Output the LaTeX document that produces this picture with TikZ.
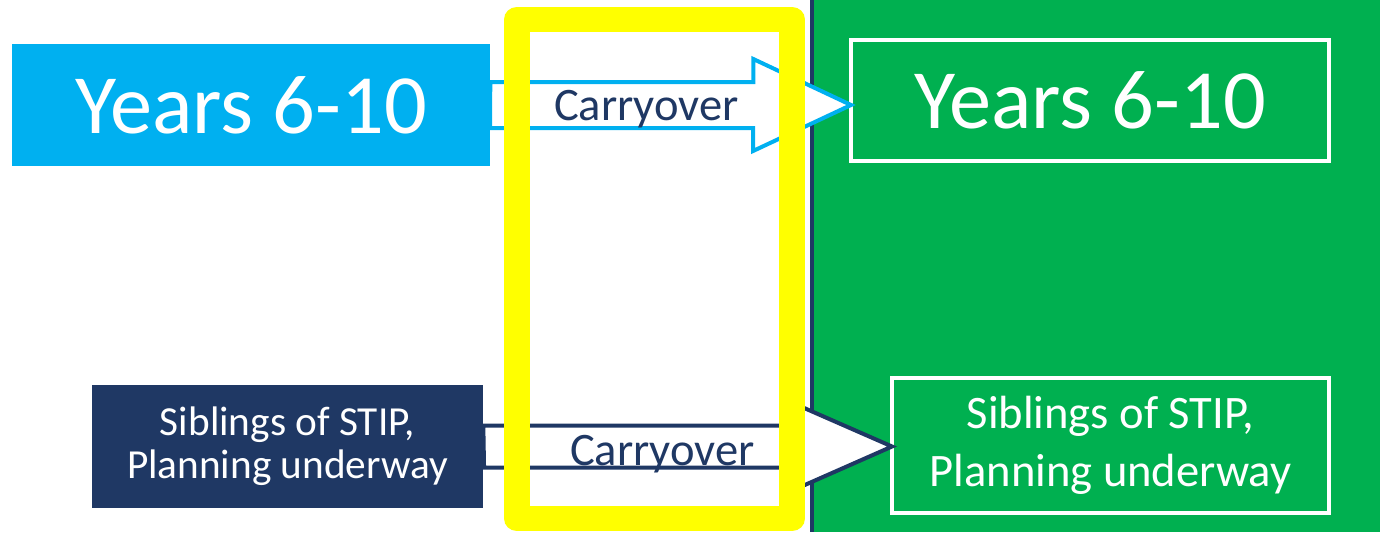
\documentclass[tikz,border=0pt]{standalone}
\usepackage{fontspec}
\setmainfont{Carlito}
\usetikzlibrary{positioning}
\usetikzlibrary{calc}

\definecolor{skyblue}{HTML}{00B0F0}
\definecolor{leafgreen}{HTML}{00B050}
\definecolor{navy}{HTML}{1F3864}
\definecolor{marker}{HTML}{FFFF00}

\tikzset{
  bigtext/.style={font=\fontsize{48}{58}\selectfont, text=white, text depth=0pt},
  sibtext/.style={align=center, text=white},
  outbox/.style={draw=white, line width=2.27pt},
  bluearrow/.style={draw=skyblue, fill=white, line width=2.27pt, line join=miter},
  navyarrow/.style={draw=navy, fill=white, line width=2.27pt, line join=miter},
  carry/.style={anchor=base, text=navy, font=\fontsize{26.5}{30}\selectfont, inner sep=0pt}
}

\begin{document}
\begin{tikzpicture}[x=0.02cm, y=-0.02cm]
\useasboundingbox (0,0) rectangle (1380,532);
% next year side
\fill[leafgreen] (812,0) rectangle (1380,532);
\draw[navy, line width=2.27pt] (812,0) -- (812,532);

% this year
\node[bigtext, fill=skyblue, minimum width=9.56cm, minimum height=2.44cm] (yl) at (251,105) {Years 6-10};
\node[sibtext, fill=navy, minimum width=7.82cm, minimum height=2.46cm,
      font=\fontsize{23.5}{24.5}\selectfont] (sl) at (287.5,446.5) {Siblings of STIP,\\Planning underway};

% next year
\node[bigtext, outbox, minimum width=9.56cm, minimum height=2.42cm] (yr) at (1090,100.5) {Years 6-10};
\node[sibtext, outbox, minimum width=8.74cm, minimum height=2.70cm,
      font=\fontsize{26.5}{33}\selectfont] (sr) at (1110.5,445.5) {Siblings of STIP,\\Planning underway};

% carryover arrows
\coordinate (ta) at ($(yr.west |- yl.east)+(2,0)$);
\coordinate (tb) at ($(sr.west |- sl.east)+(2,0)$);
\draw[bluearrow] (yl.east) ++(0,-23) -- ++(263,0) -- ++(0,-23) -- (ta)
  -- ++(-98,46) -- ++(0,-23) -- ++(-263,0) -- cycle;
\draw[navyarrow] (sl.east) ++(0,-21) -- ++(306,0) -- ++(0,-24) -- (tb)
  -- ++(-102,45) -- ++(0,-24) -- ++(-306,0) -- cycle;

% highlight
\draw[marker, line width=14.74pt, line join=round] (517,19.5) rectangle (792,518.5);

\node[carry] (c1) at (646.5,120) {Carryover};
\node[carry] (c2) at (662.5,465) {Carryover};
\end{tikzpicture}
\end{document}
